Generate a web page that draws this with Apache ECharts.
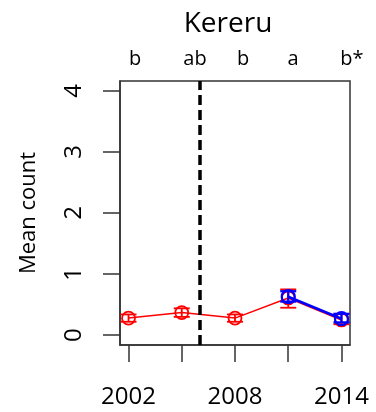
<!DOCTYPE html>
<html>
<head>
<meta charset="utf-8">
<script src="https://cdn.jsdelivr.net/npm/echarts@6/dist/echarts.min.js"></script>
<style>html,body{margin:0;padding:0;background:#fff}#c{width:376px;height:412px}</style>
</head>
<body>
<div id="c"></div>
<script>
var years = [2002, 2005, 2008, 2011, 2014];
var redMean = [0.28, 0.37, 0.28, 0.61, 0.25];
var redLow = [0.22, 0.30, 0.22, 0.45, 0.18];
var redHigh = [0.34, 0.44, 0.34, 0.75, 0.35];
var blueYears = [2011, 2014];
var blueMean = [0.63, 0.27];
var blueLow = [0.55, 0.21];
var blueHigh = [0.72, 0.35];
var letters = ['b', 'ab', 'b', 'a', 'b*'];
var xTickValues = [2002, 2005, 2008, 2011, 2014];
var xLabelValues = [2002, 2008, 2014];
var yTickValues = [0, 1, 2, 3, 4];
var breakYear = 2006;
var titleText = 'Kereru';
var yName = 'Mean count';

var letterX = [135, 195, 243, 293, 352];
var FONT = 'Open Sans';

var chart = echarts.init(document.getElementById('c'));

function errItem(color, lw) {
  return function (params, api) {
    var x = api.value(0), lo = api.value(1), hi = api.value(2);
    var pLo = api.coord([x, lo]), pHi = api.coord([x, hi]);
    var w = 8;
    var st = {stroke: color, lineWidth: lw};
    return {type: 'group', children: [
      {type: 'line', shape: {x1: pLo[0], y1: pLo[1], x2: pHi[0], y2: pHi[1]}, style: st},
      {type: 'line', shape: {x1: pLo[0] - w, y1: pLo[1], x2: pLo[0] + w, y2: pLo[1]}, style: st},
      {type: 'line', shape: {x1: pHi[0] - w, y1: pHi[1], x2: pHi[0] + w, y2: pHi[1]}, style: st}
    ]};
  };
}

var graphics = [{
  type: 'text', x: 228, y: 24,
  style: {text: titleText, font: '28px "' + FONT + '"', fill: '#000', align: 'center', verticalAlign: 'middle'}
}];
letters.forEach(function (l, i) {
  graphics.push({type: 'text', x: letterX[i], y: 59,
    style: {text: l, font: '20px "' + FONT + '"', fill: '#000', align: 'center', verticalAlign: 'middle'}});
});

function plain(v) { return String(v); }

chart.setOption({
  animation: false,
  backgroundColor: '#fff',
  grid: {left: 120, top: 81, width: 230, height: 264, show: true, borderColor: '#333', borderWidth: 1.5, backgroundColor: 'transparent'},
  graphic: graphics,
  xAxis: {
    type: 'value', min: 2001.52, max: 2014.48,
    axisLine: {show: true, onZero: false, lineStyle: {color: '#333', width: 1.5}},
    axisTick: {show: true, length: 17, customValues: xTickValues, lineStyle: {color: '#333', width: 1.5}},
    axisLabel: {customValues: xLabelValues, formatter: plain, margin: 40, fontSize: 24, fontFamily: FONT, color: '#000'},
    splitLine: {show: false}
  },
  yAxis: {
    type: 'value', min: -0.16, max: 4.16,
    name: yName, nameLocation: 'middle', nameGap: 80, nameRotate: 90,
    nameTextStyle: {fontSize: 22, fontFamily: FONT, color: '#000'},
    axisLine: {show: true, onZero: false, lineStyle: {color: '#333', width: 1.5}},
    axisTick: {show: true, length: 17, customValues: yTickValues, lineStyle: {color: '#333', width: 1.5}},
    axisLabel: {customValues: yTickValues, formatter: plain, rotate: 90, margin: 34, fontSize: 24, fontFamily: FONT, color: '#000'},
    splitLine: {show: false}
  },
  series: [
    {
      type: 'line', data: years.map(function (y, i) { return [y, redMean[i]]; }),
      symbol: 'circle', symbolSize: 13,
      lineStyle: {color: '#ff0000', width: 1.5},
      itemStyle: {color: 'rgba(0,0,0,0)', borderColor: '#ff0000', borderWidth: 1.8},
      z: 3,
      markLine: {
        silent: true, symbol: 'none', label: {show: false},
        lineStyle: {color: '#000', type: [10, 5], width: 3.5},
        data: [{xAxis: breakYear}]
      }
    },
    {
      type: 'custom', renderItem: errItem('#ff0000', 1.8),
      data: years.map(function (y, i) { return [y, redLow[i], redHigh[i]]; }), z: 3
    },
    {
      type: 'line', data: blueYears.map(function (y, i) { return [y, blueMean[i]]; }),
      symbol: 'circle', symbolSize: 13,
      lineStyle: {color: '#0000ff', width: 2.5},
      itemStyle: {color: 'rgba(0,0,0,0)', borderColor: '#0000ff', borderWidth: 2.2},
      z: 4
    },
    {
      type: 'custom', renderItem: errItem('#0000ff', 2.2),
      data: blueYears.map(function (y, i) { return [y, blueLow[i], blueHigh[i]]; }), z: 4
    }
  ]
});
</script>
</body>
</html>
